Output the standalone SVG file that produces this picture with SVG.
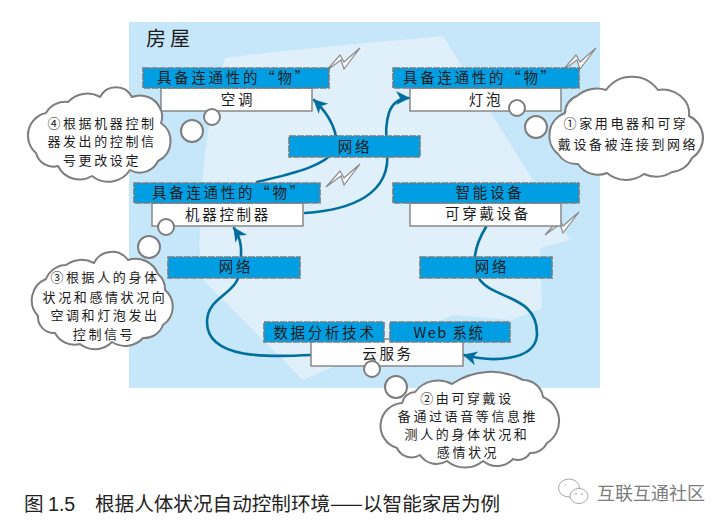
<svg xmlns="http://www.w3.org/2000/svg" width="727" height="526" viewBox="0 0 727 526">
<style>
text{font-family:"Noto Sans CJK SC","Noto Sans",sans-serif;fill:#1c1c1c}
.b{fill:#009fe3;stroke:#6f7f88;stroke-width:1.6;stroke-dasharray:7 1}
.w{fill:#fff;stroke:#808080;stroke-width:1.4}
.l{font-size:14.5px;letter-spacing:2.7px}
.m{font-size:14.5px;letter-spacing:2.7px;text-anchor:middle}
.c{font-size:13px;letter-spacing:2.6px;text-anchor:middle}
.cl{fill:#fff;stroke:#7d7d7d;stroke-width:2;stroke-linejoin:round}
.t{fill:#fff;stroke:#7d7d7d;stroke-width:2}
.bolt{fill:#fff;stroke:#8a8a8a;stroke-width:1.2;stroke-linejoin:miter}
.k{fill:none;stroke:#006f9e;stroke-width:2.6;stroke-linecap:round}
.cap{font-size:19.6px;fill:#222}
.wm{font-size:18px;fill:#7c7c7c}
</style>
<defs>
<marker id="ah" markerUnits="userSpaceOnUse" markerWidth="18" markerHeight="18" refX="13" refY="8" orient="auto">
<path d="M0,1 L14,8 L0,15 L4,8 Z" fill="#006f9e"/>
</marker>
<polygon id="bolt" points="360,48 344,69 341,60 326,71 340,55 344,62"/>
</defs>
<rect width="727" height="526" fill="#fff"/>
<rect x="129" y="22" width="471" height="366" fill="#c6e6f9"/>
<path d="M225,58 C300,48 380,42 443,36 L570,240 L540,248 L542,308 L512,320 L453,315 L303,380 L200,277 C198,200 205,120 225,58 Z" fill="#dff0fb"/>
<text x="146" y="46" font-size="20" letter-spacing="4">房屋</text>
<g id="connectors">
<path class="k" d="M257,182 C300,172 325,165 335,150 C340,135 330,115 314,100" marker-end="url(#ah)"/>
<path class="k" d="M305,213 C350,210 392,195 387,150 C384,120 388,98 409,98" marker-end="url(#ah)"/>
<path class="k" d="M486,227 C475,245 470,265 480,280 C495,300 538,295 537,335 C535,362 490,362 464,355" marker-end="url(#ah)"/>
<path class="k" d="M311,355 C270,357 207,360 207,322 C207,295 240,295 240,268 C242,250 242,240 234,228" marker-end="url(#ah)"/>
</g>
<g id="bolts">
<use href="#bolt" class="bolt"/>
<use href="#bolt" class="bolt" y="116"/>
<use href="#bolt" class="bolt" x="236"/>
<use href="#bolt" class="bolt" x="219" y="164"/>
</g>
<g id="node-ac">
<rect class="w" x="161" y="88" width="151" height="23"/>
<rect class="b" x="143" y="68" width="186" height="20"/>
<text class="l" x="157" y="83">具备连通性的“物”</text>
<text class="m" x="238" y="105">空调</text>
</g>
<g id="node-bulb">
<rect class="w" x="410" y="88" width="151" height="23"/>
<rect class="b" x="393" y="68" width="186" height="20"/>
<text class="l" x="403" y="83">具备连通性的“物”</text>
<text class="m" x="486" y="105">灯泡</text>
</g>
<g id="node-net-center">
<rect class="b" x="289" y="136" width="131" height="21"/>
<text class="m" x="355" y="152">网络</text>
</g>
<g id="node-controller">
<rect class="w" x="152" y="203" width="151" height="23"/>
<rect class="b" x="134" y="183" width="186" height="20"/>
<text class="l" x="152" y="198">具备连通性的“物”</text>
<text class="m" x="228" y="220">机器控制器</text>
</g>
<g id="node-wearable">
<rect class="w" x="410" y="203" width="151" height="23"/>
<rect class="b" x="393" y="183" width="186" height="20"/>
<text class="m" x="490" y="198">智能设备</text>
<text class="m" x="488" y="219">可穿戴设备</text>
</g>
<g id="node-net-left">
<rect class="b" x="168" y="257" width="132" height="21"/>
<text class="m" x="236" y="272">网络</text>
</g>
<g id="node-net-right">
<rect class="b" x="420" y="257" width="132" height="21"/>
<text class="m" x="492" y="272">网络</text>
</g>
<g id="node-cloud-service">
<rect class="w" x="311" y="339" width="152" height="27"/>
<rect class="b" x="264" y="322" width="120" height="20"/>
<rect class="b" x="390" y="322" width="120" height="20"/>
<text class="m" x="325" y="338">数据分析技术</text>
<text class="m" x="449" y="338" style="letter-spacing:1.5px">Web 系统</text>
<text class="m" x="388" y="359">云服务</text>
</g>
<g id="bubble-1">
<circle class="t" cx="517" cy="108" r="8"/>
<circle class="t" cx="536" cy="127" r="11"/>
<path class="cl" d="M558,154 A24,24 0 0 1 565,113 A18,18 0 0 1 577,96 A30,30 0 0 1 606,90 A32,32 0 0 1 658,90 A28,28 0 0 1 686,102 A22,22 0 0 1 689,116 A24,24 0 0 1 692,158 A24,24 0 0 1 672,172 A30,30 0 0 1 644,174 A30,30 0 0 1 607,173 A24,24 0 0 1 578,164 A22,22 0 0 1 558,154 Z"/>
<text class="c" x="626" y="128">①家用电器和可穿</text>
<text class="c" x="628" y="149">戴设备被连接到网络</text>
</g>
<g id="bubble-2">
<circle class="t" cx="372" cy="369" r="8"/>
<circle class="t" cx="396" cy="387" r="11"/>
<path class="cl" d="M397,448 A23,23 0 0 1 402,403 A14,14 0 0 1 415,392 A29,29 0 0 1 452,384 A68,68 0 0 1 523,380 A20,20 0 0 1 543,397 A26,26 0 0 1 547,443 A18,18 0 0 1 530,453 A14,14 0 0 1 513,459 A22,22 0 0 1 483,461 A28,28 0 0 1 447,461 A20,20 0 0 1 420,455 A16,16 0 0 1 397,448 Z"/>
<text class="c" x="467" y="403">②由可穿戴设</text>
<text class="c" x="468" y="421">备通过语音等信息推</text>
<text class="c" x="467" y="439">测人的身体状况和</text>
<text class="c" x="468" y="457">感情状况</text>
</g>
<g id="bubble-3">
<circle class="t" cx="166" cy="227" r="8"/>
<circle class="t" cx="149" cy="247" r="11"/>
<path class="cl" d="M38,316 A23,23 0 0 1 46,279 A22,22 0 0 1 66,265 A26,26 0 0 1 94,263 A20,20 0 0 1 128,260 A24,24 0 0 1 158,274 A20,20 0 0 1 165,290 A22,22 0 0 1 163,325 A20,20 0 0 1 143,338 A24,24 0 0 1 112,342 A24,24 0 0 1 80,344 A22,22 0 0 1 55,333 A16,16 0 0 1 38,316 Z"/>
<text class="c" x="105" y="282">③根据人的身体</text>
<text class="c" x="105" y="302">状况和感情状况向</text>
<text class="c" x="105" y="320">空调和灯泡发出</text>
<text class="c" x="104" y="339">控制信号</text>
</g>
<g id="bubble-4">
<circle class="t" cx="212" cy="117" r="8"/>
<circle class="t" cx="192" cy="131" r="11"/>
<path class="cl" d="M36,153 A23,23 0 0 1 46,113 A22,22 0 0 1 68,102 A26,26 0 0 1 100,97 A18,18 0 0 1 132,97 A22,22 0 0 1 160,108 A18,18 0 0 1 161,123 A22,22 0 0 1 158,161 A20,20 0 0 1 130,170 A26,26 0 0 1 92,176 A24,24 0 0 1 58,166 A18,18 0 0 1 36,153 Z"/>
<text class="c" x="102" y="128">④根据机器控制</text>
<text class="c" x="102" y="146">器发出的控制信</text>
<text class="c" x="102" y="165">号更改设定</text>
</g>
<text class="cap" x="24" y="511">图 <tspan font-family="Liberation Sans">1.5</tspan></text>
<text class="cap" x="95" y="511">根据人体状况自动控制环境——以智能家居为例</text>
<g id="watermark" fill="none" stroke="#a8a8a8" stroke-width="1">
<ellipse cx="569" cy="488" rx="10.5" ry="9"/>
<ellipse cx="579" cy="496" rx="9" ry="7.5" fill="#fff"/>
<circle cx="576" cy="494" r="0.8" fill="#888" stroke="none"/>
<circle cx="582" cy="494" r="0.8" fill="#888" stroke="none"/>
<circle cx="565" cy="485" r="0.8" fill="#bbb" stroke="none"/>
</g>
<text class="wm" x="597" y="500">互联互通社区</text>
</svg>
